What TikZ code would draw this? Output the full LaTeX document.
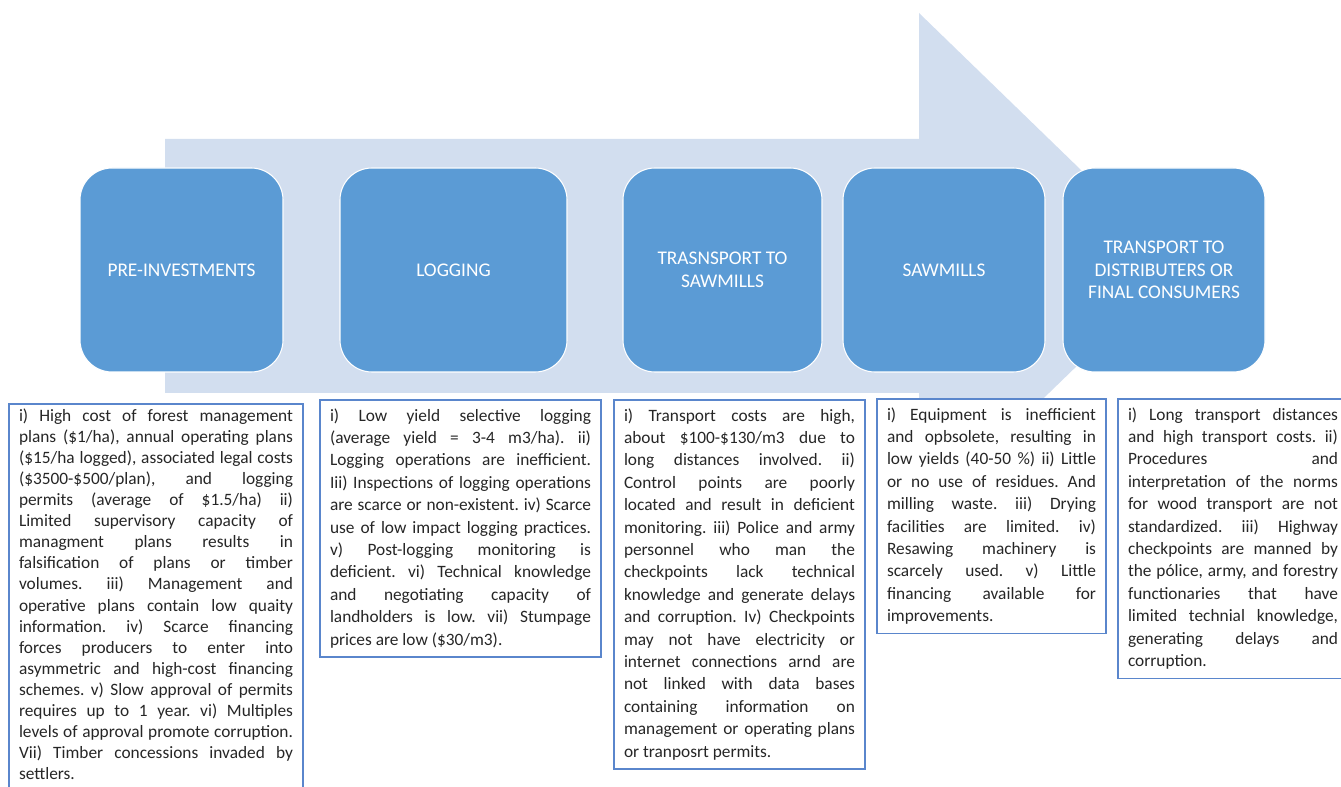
\documentclass[tikz,border=0pt]{standalone}
\usepackage{fontspec}
\setmainfont{Carlito}
\frenchspacing
\definecolor{stageblue}{HTML}{5B9BD5}
\definecolor{arrowblue}{HTML}{D2DEEF}
\definecolor{noteblue}{HTML}{5A86CC}
\definecolor{notetext}{HTML}{262626}
\newlength{\jw}
\newcommand{\jl}[1]{\hbox to \jw{\strut #1}}
\newcommand{\jend}[1]{\hbox{\strut #1}}
\tikzset{
  stage/.style={rectangle, rounded corners=24pt, fill=stageblue, draw=white,
    line width=0.8pt, text=white, font=\fontsize{14.5}{16.9}\selectfont,
    align=center, inner sep=0pt, minimum height=153pt},
  notebox/.style={rectangle, draw=noteblue, line width=1.1pt, fill=white,
    anchor=north west, inner xsep=7.5pt, inner ysep=4pt, outer sep=0pt,
    align=left, text=notetext},
  notefont/.style={font=\fontsize{13}{16.8}\selectfont\frenchspacing\setlength{\jw}{#1}},
  notefonttight/.style={font=\fontsize{13}{15.8}\selectfont\frenchspacing\setlength{\jw}{#1}}
}
\begin{document}
\begin{tikzpicture}[x=0.75pt,y=-0.75pt]
\useasboundingbox (0,0) rectangle (1341,787);
\clip (0,0) rectangle (1341,787);
% big background arrow
\fill[arrowblue] (165,139) -- (919,139) -- (919,13) -- (1180,266) -- (919,519) -- (919,393) -- (165,393) -- cycle;
% stages
\node[stage, minimum width=152.25pt] (s1) at (181.5,270) {PRE-INVESTMENTS};
\node[stage, minimum width=170.25pt] (s2) at (453.5,270) {LOGGING};
\node[stage, minimum width=149.25pt] (s3) at (722.5,270) {TRASNSPORT TO\\SAWMILLS};
\node[stage, minimum width=151.5pt] (s4) at (944,270) {SAWMILLS};
\node[stage, minimum width=151.5pt] (s5) at (1164,270) {TRANSPORT TO\\DISTRIBUTERS OR\\FINAL CONSUMERS};
% notes
\node[notebox, notefonttight=205.5pt, inner ysep=2pt] (n1) at (9,404) {%
\jl{i) High cost of forest management}\\
\jl{plans (\$1/ha), annual operating plans}\\
\jl{(\$15/ha logged), associated legal costs}\\
\jl{(\$3500-\$500/plan), and logging}\\
\jl{permits (average of \$1.5/ha) ii)}\\
\jl{Limited supervisory capacity of}\\
\jl{managment plans results in}\\
\jl{falsification of plans or timber}\\
\jl{volumes. iii) Management and}\\
\jl{operative plans contain low quaity}\\
\jl{information. iv) Scarce financing}\\
\jl{forces producers to enter into}\\
\jl{asymmetric and high-cost financing}\\
\jl{schemes. v) Slow approval of permits}\\
\jl{requires up to 1 year. vi) Multiples}\\
\jl{levels of approval promote corruption.}\\
\jl{Vii) Timber concessions invaded by}\\
\jend{settlers.}};
\node[notebox, notefont=195.75pt] (n2) at (320,400) {%
\jl{i) Low yield selective logging}\\
\jl{(average yield = 3-4 m3/ha). ii)}\\
\jl{Logging operations are inefficient.}\\
\jl{Iii) Inspections of logging operations}\\
\jl{are scarce or non-existent. iv) Scarce}\\
\jl{use of low impact logging practices.}\\
\jl{v) Post-logging monitoring is}\\
\jl{deficient. vi) Technical knowledge}\\
\jl{and negotiating capacity of}\\
\jl{landholders is low. vii) Stumpage}\\
\jend{prices are low (\$30/m3).}};
\node[notebox, notefont=173.25pt] (n3) at (614,400) {%
\jl{i) Transport costs are high,}\\
\jl{about \$100-\$130/m3 due to}\\
\jl{long distances involved. ii)}\\
\jl{Control points are poorly}\\
\jl{located and result in deficient}\\
\jl{monitoring. iii) Police and army}\\
\jl{personnel who man the}\\
\jl{checkpoints lack technical}\\
\jl{knowledge and generate delays}\\
\jl{and corruption. Iv) Checkpoints}\\
\jl{may not have electricity or}\\
\jl{internet connections arnd are}\\
\jl{not linked with data bases}\\
\jl{containing information on}\\
\jl{management or operating plans}\\
\jend{or tranposrt permits.}};
\node[notebox, notefont=156.75pt] (n4) at (877,399) {%
\jl{i) Equipment is inefficient}\\
\jl{and opbsolete, resulting in}\\
\jl{low yields (40-50 \%) ii) Little}\\
\jl{or no use of residues. And}\\
\jl{milling waste. iii) Drying}\\
\jl{facilities are limited. iv)}\\
\jl{Resawing machinery is}\\
\jl{scarcely used. v) Little}\\
\jl{financing available for}\\
\jend{improvements.}};
\node[notebox, notefont=157.5pt] (n5) at (1118,399) {%
\jl{i) Long transport distances}\\
\jl{and high transport costs. ii)}\\
\jl{Procedures and}\\
\jl{interpretation of the norms}\\
\jl{for wood transport are not}\\
\jl{standardized. iii) Highway}\\
\jl{checkpoints are manned by}\\
\jl{the pólice, army, and forestry}\\
\jl{functionaries that have}\\
\jl{limited technial knowledge,}\\
\jl{generating delays and}\\
\jend{corruption.}};
\end{tikzpicture}
\end{document}
